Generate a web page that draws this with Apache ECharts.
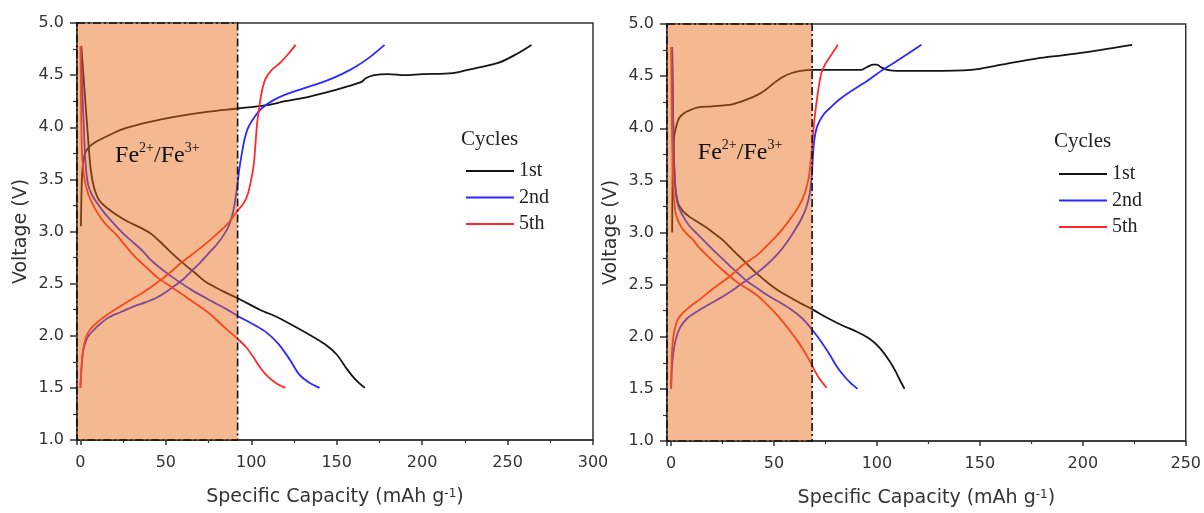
<!DOCTYPE html>
<html><head><meta charset="utf-8">
<script src="https://cdn.jsdelivr.net/npm/echarts@6/dist/echarts.min.js"></script>
<style>html,body{margin:0;padding:0;background:#fff}#c{width:1204px;height:513px}</style>
</head><body><div id="c"></div>
<script>
// ---------- data ----------
const cycleNames = ['1st', '2nd', '5th'];
const cycleColors = ['#141414', '#2a2aff', '#ff2a2a'];

// Left panel [capacity mAh/g, voltage V]
const leftC1Charge = [[0.3,3.05],[0.6,3.35],[1,3.55],[1.6,3.66],[2.7,3.75],[5,3.81],[8,3.85],[12.6,3.89],[20,3.95],[26,3.99],[40,4.05],[55,4.1],[75,4.15],[92,4.18],[108,4.21],[120,4.25],[133,4.29],[150,4.36],[162,4.42],[165,4.44],[167,4.47],[172,4.5],[180,4.51],[190,4.5],[200,4.51],[218,4.52],[232,4.57],[245,4.62],[255,4.7],[264,4.79]];
const leftC1Discharge = [[0.5,4.78],[2,4.45],[4,4.0],[6,3.6],[8,3.42],[11,3.3],[16,3.22],[22,3.15],[27,3.1],[36,3.03],[42,2.97],[48,2.88],[53,2.8],[57,2.74],[62,2.67],[68,2.59],[73,2.52],[83,2.43],[92,2.36],[105,2.25],[115,2.18],[122,2.12],[134,2.01],[143,1.92],[150,1.82],[156,1.68],[161,1.58],[166.5,1.5]];
const leftC2Charge = [[0,1.5],[0.7,1.7],[1.5,1.85],[4,1.98],[7.4,2.05],[12,2.12],[17,2.18],[24,2.23],[31,2.28],[38,2.32],[45,2.37],[51,2.43],[56,2.49],[60,2.54],[65,2.62],[70,2.7],[75,2.79],[80,2.88],[84,2.97],[87,3.06],[89.5,3.2],[91.5,3.4],[93,3.6],[94.5,3.75],[96,3.88],[98,3.99],[102,4.1],[106,4.18],[113,4.26],[121,4.32],[132,4.38],[143,4.44],[153,4.51],[162,4.59],[170,4.68],[178,4.79]];
const leftC2Discharge = [[0.3,4.78],[1,4.4],[2,4.0],[3,3.65],[4.5,3.45],[6.8,3.35],[9.5,3.28],[13,3.2],[16,3.14],[21,3.05],[27,2.95],[36,2.82],[41,2.73],[46,2.66],[54,2.56],[65,2.44],[77,2.33],[85,2.26],[92,2.19],[100,2.12],[109,2.03],[116,1.92],[122.6,1.77],[128,1.63],[134,1.55],[140,1.5]];
const leftC5Charge = [[0,1.5],[0.6,1.7],[1.6,1.86],[3,1.97],[5.6,2.06],[11.5,2.15],[17.3,2.22],[24,2.29],[31,2.36],[38,2.43],[45,2.51],[52,2.6],[59,2.7],[67,2.8],[76,2.92],[86,3.07],[92,3.2],[95.5,3.27],[98,3.36],[100,3.5],[101.5,3.65],[102.5,3.85],[103.5,4.05],[105,4.23],[106.5,4.37],[108.5,4.47],[112,4.55],[117,4.62],[122,4.71],[126,4.79]];
const leftC5Discharge = [[0,4.78],[0.4,4.2],[0.8,3.8],[1.5,3.62],[3,3.45],[6,3.3],[11.5,3.14],[16,3.05],[21,2.97],[26,2.87],[33,2.74],[39,2.65],[45,2.56],[53,2.47],[62,2.37],[75,2.22],[85,2.07],[92,1.97],[97,1.89],[101,1.8],[105,1.7],[109,1.62],[115,1.54],[120,1.5]];

// Right panel
const rightC1Charge = [[0.5,3.0],[0.7,3.5],[1.0,3.8],[1.5,3.93],[2.5,4.02],[4,4.1],[6.8,4.15],[10,4.18],[13,4.2],[20,4.21],[29.6,4.23],[36,4.27],[42,4.32],[46,4.37],[50.4,4.44],[54,4.49],[58.6,4.53],[63,4.55],[68.3,4.56],[80,4.56],[92.5,4.56],[95,4.585],[98,4.61],[100,4.61],[102,4.585],[105,4.56],[110,4.55],[118,4.55],[142,4.555],[150,4.57],[158,4.6],[166,4.63],[178,4.67],[190,4.7],[205,4.74],[224,4.8]];
const rightC1Discharge = [[0.5,4.78],[0.9,4.2],[1.4,3.7],[2,3.45],[3.4,3.28],[6,3.2],[9,3.15],[13,3.1],[17,3.05],[21,2.99],[25,2.93],[30,2.83],[36.8,2.7],[42,2.6],[45,2.55],[49.4,2.48],[54,2.42],[58.6,2.37],[63,2.32],[68.8,2.26],[76,2.18],[83,2.11],[90,2.05],[96.4,1.98],[101,1.9],[106,1.77],[109,1.67],[111,1.59],[113.4,1.5]];
const rightC2Charge = [[0,1.5],[0.4,1.7],[1,1.83],[2.2,1.97],[4.4,2.09],[8,2.18],[14,2.26],[22.8,2.36],[28.6,2.43],[35,2.52],[41.6,2.61],[47,2.7],[52,2.8],[56,2.9],[60,3.02],[63,3.12],[65.5,3.23],[67.3,3.37],[68.3,3.54],[68.8,3.7],[69.5,3.88],[71,4.02],[74,4.13],[78,4.21],[82,4.28],[87.7,4.36],[95,4.45],[102,4.55],[110,4.65],[121.6,4.8]];
const rightC2Discharge = [[0.5,4.78],[0.9,4.2],[1.4,3.7],[2.2,3.4],[3.4,3.26],[6,3.15],[9,3.06],[13,2.98],[20,2.84],[28,2.69],[33,2.6],[37,2.53],[41.6,2.47],[45,2.42],[51,2.35],[57.6,2.27],[64,2.17],[68.8,2.06],[73,1.95],[77,1.83],[80,1.73],[83.3,1.64],[87,1.56],[90.6,1.5]];
const rightC5Charge = [[0,1.51],[0.3,1.8],[1,1.99],[2.5,2.13],[4.4,2.2],[8,2.27],[14,2.36],[21,2.47],[28.6,2.58],[35,2.69],[41.6,2.78],[49.4,2.93],[54,3.03],[58.6,3.15],[62,3.25],[65,3.38],[66.8,3.52],[67.8,3.68],[68.6,3.85],[69.3,4.02],[70,4.15],[71,4.3],[72,4.43],[73,4.53],[75,4.62],[77,4.68],[79,4.74],[81,4.8]];
const rightC5Discharge = [[0,4.78],[0.4,4.0],[0.8,3.6],[1.5,3.3],[2.5,3.16],[5,3.05],[8,2.98],[10.7,2.93],[13,2.87],[19,2.75],[25,2.64],[31,2.54],[37,2.46],[41.6,2.4],[46,2.32],[50,2.24],[54,2.15],[57.6,2.06],[61,1.97],[64,1.88],[67,1.78],[68.8,1.71],[72,1.6],[75.6,1.51]];

// Fe2+/Fe3+ region: [xFrom, xTo, vFrom, vTo]
const leftRegion = [-2, 92, 1, 5];
const rightRegion = [-2, 68.5, 1, 5];
const leftXRange = [-2, 300];
const rightXRange = [-2, 250];
const yRange = [1, 5];
const regionLabelLeft = [45, 3.73];
const regionLabelRight = [33.5, 3.77];

// ---------- chart ----------
const SANS = 'DejaVu Sans';
const SERIF = 'Liberation Serif';
const AX = '#333';

function lineSeries(name, data, color, gi) {
  return {
    type: 'line', name, data, xAxisIndex: gi, yAxisIndex: gi,
    symbol: 'none', showSymbol: false, smooth: 0.3,
    lineStyle: { color, width: 1.8 }, itemStyle: { color }, z: 2, silent: true
  };
}
function regionSeries(region, labelPos, gi) {
  return {
    type: 'custom', xAxisIndex: gi, yAxisIndex: gi, z: 10, silent: true,
    data: [[region[0], region[1], region[2], region[3], labelPos[0], labelPos[1]]],
    renderItem: function (params, api) {
      const p0 = api.coord([api.value(0), api.value(3)]);
      const p1 = api.coord([api.value(1), api.value(2)]);
      const t = api.coord([api.value(4), api.value(5)]);
      return {
        type: 'group', children: [
          { type: 'rect', shape: { x: p0[0], y: p0[1], width: p1[0] - p0[0], height: p1[1] - p0[1] },
            style: { fill: 'rgba(232,106,21,0.47)', stroke: '#111', lineWidth: 1.6, lineDash: [8, 3, 2, 3] } },
          { type: 'text', x: t[0], y: t[1],
            style: { text: '{n|Fe}{s|2+}{n|/Fe}{s|3+}', align: 'center', verticalAlign: 'middle', fill: '#111',
              rich: { n: { fontFamily: SERIF, fontSize: 24, lineHeight: 28, color: '#111' },
                      s: { fontFamily: SERIF, fontSize: 14, lineHeight: 14, verticalAlign: 'top', color: '#111' } } } }
        ]
      };
    }
  };
}
function xAxis(gi, range, split) {
  return {
    type: 'value', gridIndex: gi, min: range[0], max: range[1], splitNumber: split,
    axisLine: { show: true, onZero: false, lineStyle: { color: AX, width: 1.5 } },
    axisTick: { show: true, length: 5, lineStyle: { color: AX, width: 1.5 } },
    minorTick: { show: true, splitNumber: 2, length: 3, lineStyle: { color: AX, width: 1.2 } },
    splitLine: { show: false },
    axisLabel: { showMinLabel: false, margin: 15, fontFamily: SANS, fontSize: 16, color: AX },
    name: '{a|Specific Capacity (mAh g}{s|-1}{a|)}', nameLocation: 'middle', nameGap: 48,
    nameTextStyle: { rich: { a: { fontFamily: SANS, fontSize: 19, color: AX },
                             s: { fontFamily: SANS, fontSize: 12, color: AX, verticalAlign: 'top' } } }
  };
}
function yAxis(gi) {
  return {
    type: 'value', gridIndex: gi, min: yRange[0], max: yRange[1], interval: 0.5,
    axisLine: { show: true, onZero: false, lineStyle: { color: AX, width: 1.5 } },
    axisTick: { show: true, length: 7, lineStyle: { color: AX, width: 1.5 } },
    minorTick: { show: true, splitNumber: 2, length: 4, lineStyle: { color: AX, width: 1.2 } },
    splitLine: { show: false },
    axisLabel: { margin: 13, fontFamily: SANS, fontSize: 16, color: AX, formatter: v => v.toFixed(1) },
    name: 'Voltage (V)', nameLocation: 'middle', nameGap: 46,
    nameTextStyle: { fontFamily: SANS, fontSize: 19, color: AX }
  };
}
function legend(left, top) {
  return {
    left, top, orient: 'vertical', selectedMode: false, icon: 'rect',
    data: cycleNames.map((n, i) => ({ name: n, itemStyle: { color: cycleColors[i] } })),
    itemWidth: 48, itemHeight: 2, itemGap: 6.5,
    textStyle: { fontFamily: SERIF, fontSize: 20, lineHeight: 20, color: '#222' }
  };
}

const leftSets = [[leftC1Charge, leftC1Discharge], [leftC2Charge, leftC2Discharge], [leftC5Charge, leftC5Discharge]];
const rightSets = [[rightC1Charge, rightC1Discharge], [rightC2Charge, rightC2Discharge], [rightC5Charge, rightC5Discharge]];
const series = [];
[leftSets, rightSets].forEach((sets, gi) => {
  sets.forEach((pair, ci) => pair.forEach(d => series.push(lineSeries(cycleNames[ci], d, cycleColors[ci], gi))));
});
series.push(regionSeries(leftRegion, regionLabelLeft, 0));
series.push(regionSeries(rightRegion, regionLabelRight, 1));

const chart = echarts.init(document.getElementById('c'), null, { renderer: 'canvas' });
chart.setOption({
  animation: false,
  backgroundColor: '#fff',
  grid: [
    { left: 77, top: 23, width: 516, height: 417, show: true, borderColor: AX, borderWidth: 1.5, backgroundColor: 'transparent' },
    { left: 667, top: 24, width: 520, height: 420, show: true, borderColor: AX, borderWidth: 1.5, backgroundColor: 'transparent' }
  ],
  xAxis: [xAxis(0, leftXRange, 6), xAxis(1, rightXRange, 5)],
  yAxis: [yAxis(0), yAxis(1)],
  legend: [legend(461, 156), legend(1054, 159)],
  graphic: [
    { type: 'text', left: 461, top: 129, style: { text: 'Cycles', fontFamily: SERIF, fontSize: 21, fill: '#222' } },
    { type: 'text', left: 1054, top: 131, style: { text: 'Cycles', fontFamily: SERIF, fontSize: 21, fill: '#222' } }
  ],
  series
});
</script>
</body></html>
